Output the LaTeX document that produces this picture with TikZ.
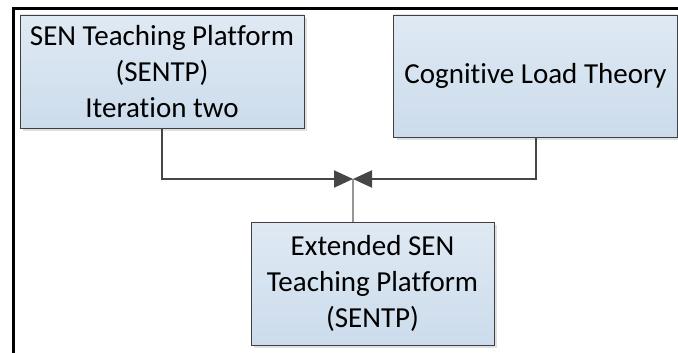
\documentclass[tikz,border=0pt]{standalone}
\usepackage{fontspec}
\setmainfont{Carlito}[Ligatures={NoCommon,NoContextual}]
\usepackage{tikz}
\usetikzlibrary{arrows.meta,positioning,calc,shadows}
\definecolor{boxtop}{RGB}{223,233,243}
\definecolor{boxbottom}{RGB}{204,220,236}
\definecolor{boxline}{RGB}{64,64,64}
\definecolor{linkgray}{RGB}{70,70,70}
\definecolor{stemgray}{RGB}{150,150,150}

\tikzset{
  platformbox/.style={rectangle,draw=boxline,line width=0.9pt,top color=boxtop,bottom color=boxbottom,
    drop shadow={shadow xshift=3pt,shadow yshift=-3pt,fill=black!12,opacity=1},
    align=center,font=\fontsize{29}{36}\selectfont,inner sep=0pt},
  link/.style={linkgray,line width=2pt,-{Triangle[length=19pt,width=17pt]}},
}

\begin{document}
\begin{tikzpicture}[x=1pt,y=-1pt]
        \useasboundingbox (0,0) rectangle (678,353);
        % frame
        \draw[line width=3pt,black] (13.5,353) -- (13.5,8.5) -- (678,8.5);

        \node[platformbox,minimum width=284pt,minimum height=113pt] (sentp) at (162,71.5)
            {SEN Teaching Platform\\(SENTP)\\Iteration two};
        \node[platformbox,minimum width=284pt,minimum height=122pt] (clt) at (535.5,76)
            {Cognitive Load Theory};
        \node[platformbox,minimum width=243pt,minimum height=123pt] (extended) at (372.5,283.5)
            {Extended SEN\\Teaching Platform\\(SENTP)};

        \coordinate (meet) at (353,179);
        \draw[stemgray,line width=1.2pt] (extended.north -| meet) -- (meet);
        \draw[link] (sentp.south) |- (meet);
        \draw[link] (clt.south) |- (meet);
    \end{tikzpicture}
\end{document}
